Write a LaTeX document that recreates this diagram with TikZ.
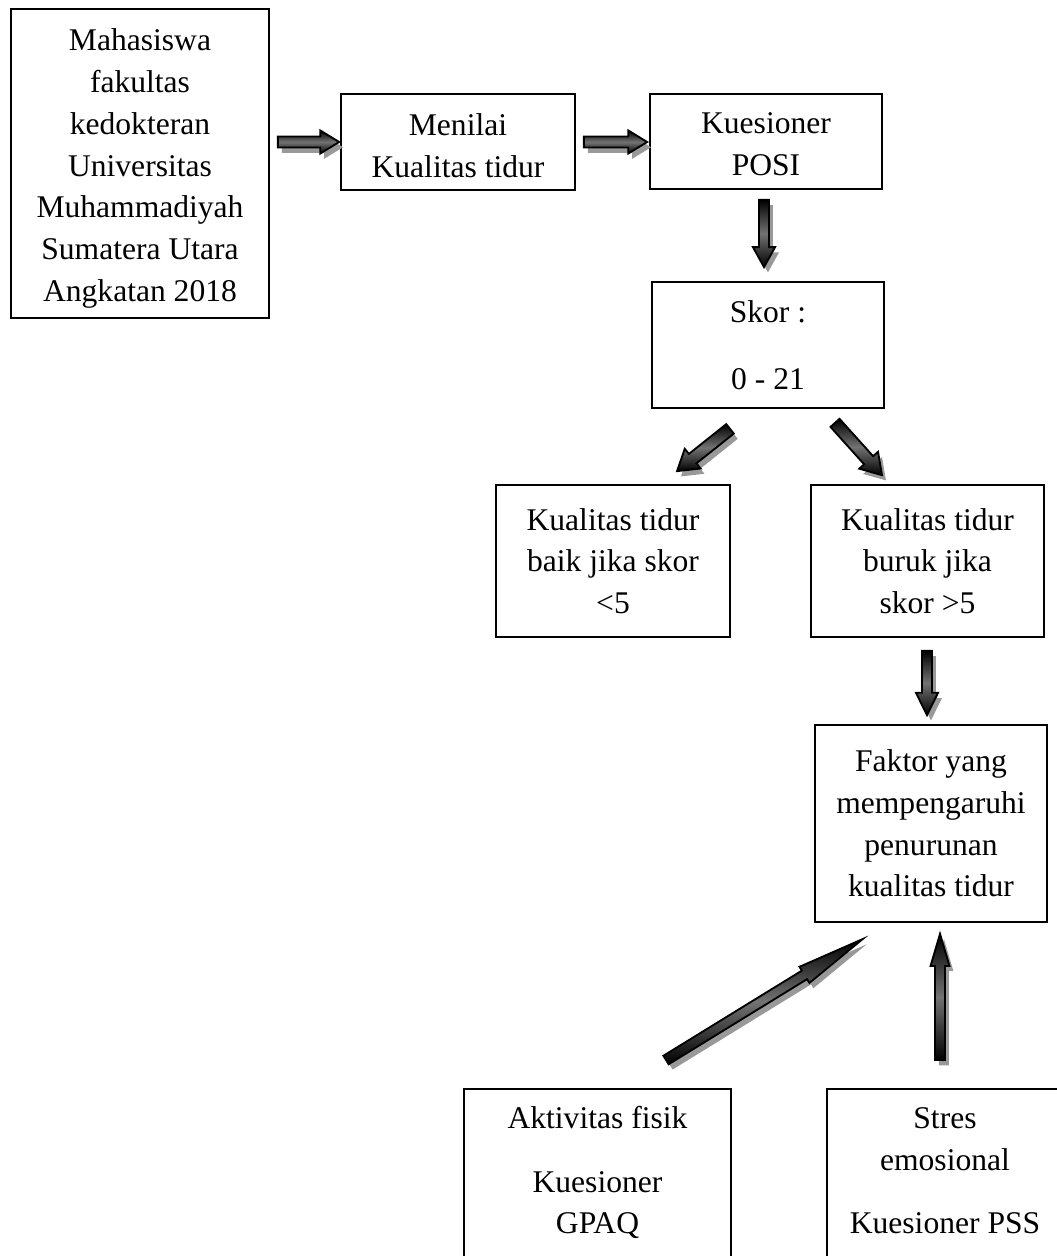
\documentclass[tikz,border=0pt]{standalone}
\usepackage{fontspec}
\setmainfont{Liberation Serif}
\usetikzlibrary{calc}
\tikzset{
  box/.style={draw=black, line width=0.65pt, inner sep=0pt, align=center,
              font=\fontsize{12}{15.85}\selectfont},
  txt/.style={inner sep=0pt, anchor=base, font=\fontsize{12}{15.85}\selectfont},
  mtxt/.style={inner sep=0pt, align=center, font=\fontsize{12}{15.85}\selectfont},
  arrshadow/.style={fill=black!40},
  arrbody/.style={draw=black, line width=0.7pt, top color=black, bottom color=black, middle color=black!55},
}
\newcommand\blockarr[5]{%
  \pgfmathanglebetweenpoints{\pgfpointanchor{#1}{center}}{\pgfpointanchor{#2}{center}}%
  \edef\barang{\pgfmathresult}%
  \pgfpointdiff{\pgfpointanchor{#1}{center}}{\pgfpointanchor{#2}{center}}%
  \pgfgetlastxy{\barx}{\bary}%
  \pgfmathveclen{\barx}{\bary}%
  \edef\barlen{\pgfmathresult}%
  \pgfmathsetmacro\barneck{\barlen-#5}%
  \begin{scope}[shift={($(#1)+(1.5pt,-2pt)$)},rotate=\barang,x=1pt,y=1pt]
    \fill[arrshadow] (0,#3)--(\barneck,#3)--(\barneck,#4)--(\barlen,0)--(\barneck,-#4)--(\barneck,-#3)--(0,-#3)--cycle;
  \end{scope}
  \begin{scope}[shift={(#1)},rotate=\barang,x=1pt,y=1pt]
    \draw[arrbody] (0,#3)--(\barneck,#3)--(\barneck,#4)--(\barlen,0)--(\barneck,-#4)--(\barneck,-#3)--(0,-#3)--cycle;
  \end{scope}}
\begin{document}
\begin{tikzpicture}[x=0.38pt,y=-0.38pt]
\useasboundingbox (0,0) rectangle (1057,1256);
\fill[white] (0,0) rectangle (1057,1256);
\clip (0,0) rectangle (1057,1256);

% boxes
\node[box, minimum width=98.04pt, minimum height=117.42pt] (b1) at (140,163.5) {};
\node[mtxt] (b1t) at ($(b1.center)+(0,5)$)
  {Mahasiswa\\fakultas\\kedokteran\\Universitas\\Muhammadiyah\\Sumatera Utara\\Angkatan 2018};
\node[box, minimum width=88.92pt, minimum height=36.48pt] (b2) at (458,142) {};
\node[mtxt] (b2t) at ($(b2.center)+(0,4)$) {Menilai\\Kualitas tidur};
\node[box, minimum width=88.16pt, minimum height=36.1pt] (b3) at (766,141.5) {};
\node[mtxt] (b3t) at ($(b3.center)+(0,3)$) {Kuesioner\\POSI};
\node[box, minimum width=88.16pt, minimum height=47.88pt] (b4) at (768,345) {Skor :\\[9.6pt]0 - 21};
\node[box, minimum width=88.92pt, minimum height=57.76pt] (b5) at (613,561) {Kualitas tidur\\baik jika skor\\<5};
\node[box, minimum width=88.54pt, minimum height=57.76pt] (b6) at (927.5,561) {Kualitas tidur\\buruk jika\\skor >5};
\node[box, minimum width=88.16pt, minimum height=74.86pt] (b7) at (931,823.5) {Faktor yang\\mempengaruhi\\penurunan\\kualitas tidur};
\node[box, anchor=north, minimum width=101.46pt, minimum height=90pt] (b8) at (597.5,1088) {};
\node[box, anchor=north, minimum width=89.68pt, minimum height=90pt] (b9) at (945,1088) {};

% texts of the open boxes
\node[txt] (t8a) at (597.5,1128) {Aktivitas fisik};
\node[txt] (t8b) at (597.5,1192) {Kuesioner};
\node[txt] (t8c) at (597.5,1233) {GPAQ};
\node[txt] (t9a) at (945,1128) {Stres};
\node[txt] (t9b) at (945,1170) {emosional};
\node[txt] (t9c) at (945,1233) {Kuesioner PSS};

% connector end points
\coordinate (a1s) at ($(b1.east)+(8,-21.5)$);
\coordinate (a1e) at ($(b2.west)+(-1,0)$);
\coordinate (a2s) at ($(b2.east)+(8,0)$);
\coordinate (a2e) at ($(b3.west)+(-2,0.5)$);
\coordinate (a3s) at ($(b3.south)+(-2,10)$);
\coordinate (a3e) at ($(b4.north)+(-4,-14)$);
\coordinate (a4s) at ($(b4.south)+(-38,20)$);
\coordinate (a4e) at ($(b5.north)+(64,-13)$);
\coordinate (a5s) at ($(b4.south)+(67,14)$);
\coordinate (a5e) at ($(b6.north)+(-45.5,-9)$);
\coordinate (a6s) at ($(b6.south)+(-0.5,13)$);
\coordinate (a6e) at ($(b7.north)+(-4,-9)$);
\coordinate (a7s) at ($(b8.north)+(68.5,-28)$);
\coordinate (a7e) at ($(b7.south)+(-68,16)$);
\coordinate (a8s) at ($(b9.north)+(-5,-28)$);
\coordinate (a8e) at ($(b7.south)+(9,11)$);

% block arrows: from, to, shaft half width, head half width, head length (pt)
\blockarr{a1s}{a1e}{2.1}{4.4}{7.2}
\blockarr{a2s}{a2e}{2.1}{4.4}{7.2}
\blockarr{a3s}{a3e}{1.9}{4.2}{7.6}
\blockarr{a4s}{a4e}{2.3}{4.8}{7.6}
\blockarr{a5s}{a5e}{2.3}{4.8}{7.6}
\blockarr{a6s}{a6e}{1.9}{4.2}{8.5}
\blockarr{a7s}{a7e}{1.9}{3.6}{26}
\blockarr{a8s}{a8e}{1.9}{3.6}{12.2}
\end{tikzpicture}
\end{document}
